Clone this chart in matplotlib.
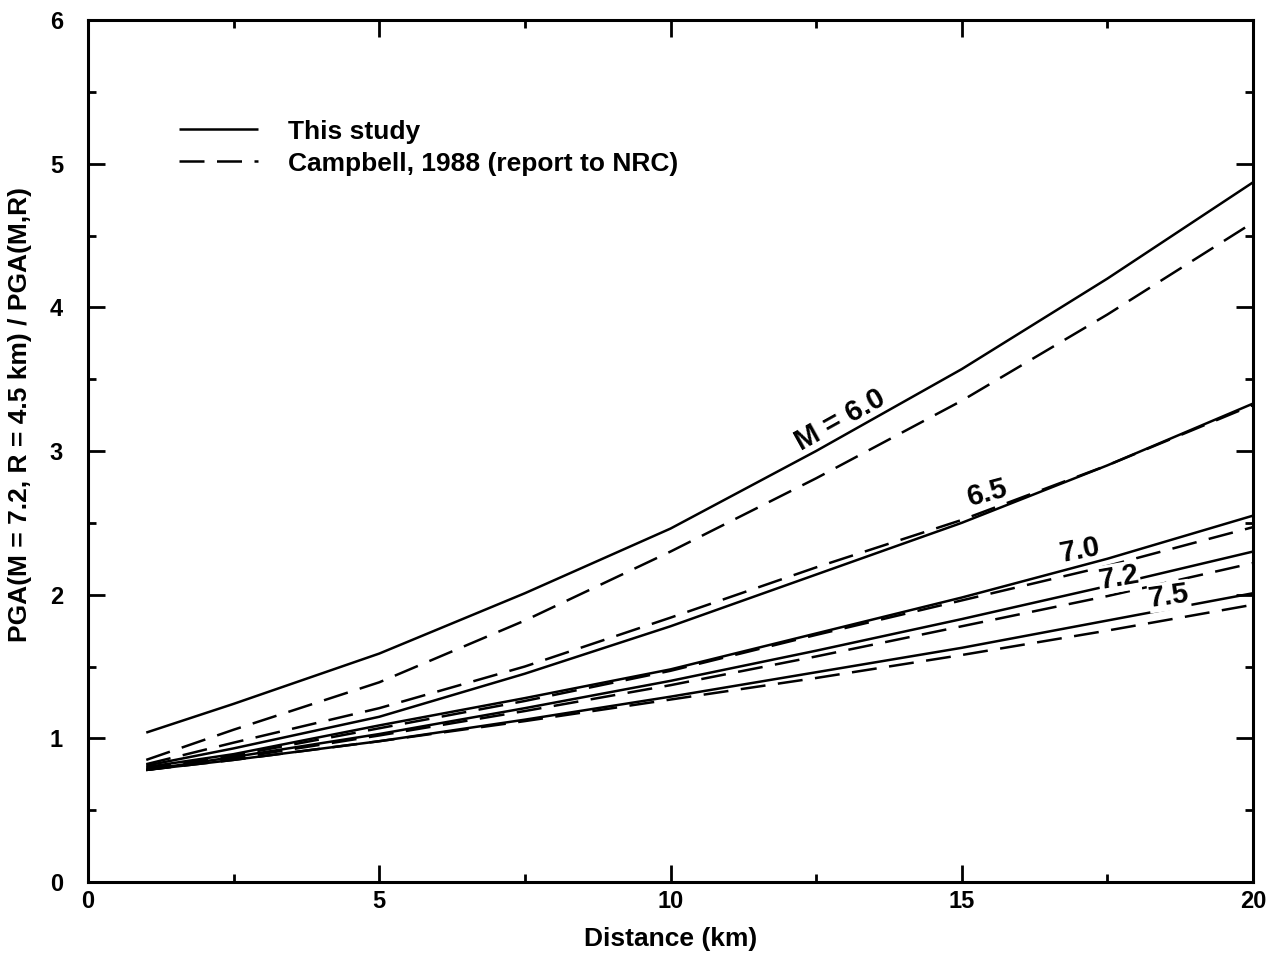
import matplotlib
matplotlib.use("Agg")
import matplotlib.pyplot as plt
from matplotlib.ticker import MultipleLocator

plt.rcParams['font.family'] = ['Liberation Sans', 'DejaVu Sans']

distance = [1, 2.5, 5, 7.5, 10, 12.5, 15, 17.5, 20]

# This study (solid)
study_60 = [1.04, 1.24, 1.59, 2.01, 2.46, 3.00, 3.57, 4.20, 4.87]
study_65 = [0.81, 0.93, 1.15, 1.45, 1.78, 2.14, 2.50, 2.90, 3.33]
study_70 = [0.80, 0.89, 1.09, 1.28, 1.48, 1.73, 1.98, 2.25, 2.55]
study_72 = [0.78, 0.87, 1.03, 1.21, 1.40, 1.61, 1.83, 2.06, 2.30]
study_75 = [0.78, 0.85, 0.98, 1.13, 1.29, 1.46, 1.63, 1.82, 2.01]

# Campbell, 1988 (dashed)
camp_60 = [0.85, 1.06, 1.39, 1.82, 2.30, 2.81, 3.35, 3.95, 4.59]
camp_65 = [0.82, 0.97, 1.21, 1.50, 1.84, 2.19, 2.52, 2.90, 3.32]
camp_70 = [0.79, 0.88, 1.07, 1.26, 1.47, 1.72, 1.96, 2.20, 2.47]
camp_72 = [0.78, 0.86, 1.02, 1.19, 1.37, 1.57, 1.78, 1.99, 2.22]
camp_75 = [0.78, 0.85, 0.98, 1.12, 1.27, 1.42, 1.58, 1.75, 1.93]

curve_labels = ["M = 6.0", "6.5", "7.0", "7.2", "7.5"]
label_x = [12.91, 15.45, 17.03, 17.70, 18.56]
label_y = [3.215, 2.71, 2.31, 2.12, 1.99]
label_rot = [29, 15, 11, 10, 8]

legend_labels = ["This study", "Campbell, 1988 (report to NRC)"]
x_label = "Distance (km)"
y_label = "PGA(M = 7.2, R = 4.5 km) / PGA(M,R)"

fig = plt.figure(figsize=(12.70, 9.61), dpi=100)
ax = fig.add_axes([88/1270, 1-882/961, (1253-88)/1270, (882-20)/961])

lw = 1.8
dash = (0, (10, 5))
study = [study_60, study_65, study_70, study_72, study_75]
camp = [camp_60, camp_65, camp_70, camp_72, camp_75]
for i, (s, c) in enumerate(zip(study, camp)):
    ax.plot(distance, s, color='black', lw=lw, solid_capstyle='butt',
            label=legend_labels[0] if i == 0 else None)
    ax.plot(distance, c, color='black', lw=lw, linestyle=dash,
            label=legend_labels[1] if i == 0 else None)

for t, x, y, r in zip(curve_labels, label_x, label_y, label_rot):
    ax.text(x, y, t, rotation=r, ha='center', va='center', fontsize=21,
            fontweight='bold', rotation_mode='anchor',
            bbox=dict(facecolor='white', edgecolor='none', pad=0.5) if t in ("7.2", "7.5") else None)

ax.set_xlim(0, 20)
ax.set_ylim(0, 6)
ax.xaxis.set_major_locator(MultipleLocator(5))
ax.xaxis.set_minor_locator(MultipleLocator(2.5))
ax.yaxis.set_major_locator(MultipleLocator(1))
ax.yaxis.set_minor_locator(MultipleLocator(0.5))
ax.tick_params(which='both', direction='in', top=True, right=True, width=2, colors='black')
ax.tick_params(which='major', length=12, labelsize=17, pad=6)
ax.tick_params(which='minor', length=6)
ax.tick_params(axis='y', which='major', pad=18)
for lab in ax.get_xticklabels() + ax.get_yticklabels():
    lab.set_fontweight('bold')
for sp in ax.spines.values():
    sp.set_linewidth(2.2)

ax.set_xlabel(x_label, fontsize=19, fontweight='bold', labelpad=10)
fig.text(20/1270, 1-415/961, y_label, rotation=90, ha='center', va='center',
         fontsize=19, fontweight='bold')

leg = ax.legend(loc='upper left', bbox_to_anchor=(0.058, 0.912), frameon=False,
                handlelength=3.0, handletextpad=1.1, labelspacing=0.3,
                prop={'weight': 'bold', 'size': 19})

fig.savefig("out.png", dpi=100, facecolor='white')
